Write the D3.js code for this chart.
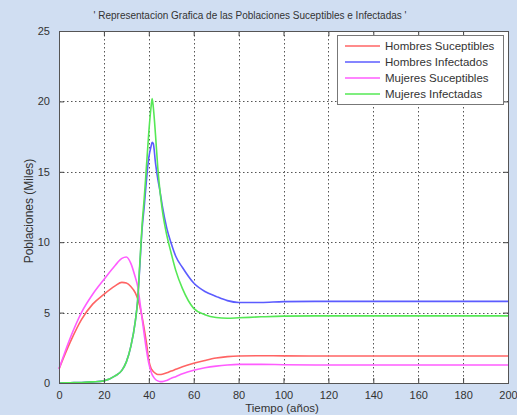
<!DOCTYPE html>
<html>
<head>
<meta charset="utf-8">
<script src="https://cdn.jsdelivr.net/npm/d3@7"></script>
<style>
  body { margin: 0; background: #d0def2; }
  svg { display: block; font-family: "Liberation Sans", Arial, sans-serif; }
</style>
</head>
<body>
<div id="chart"></div>
<script>
// tiempo (años)
var tiempo = [0, 5, 10, 15, 20, 25, 28, 30, 32, 34, 35, 36, 37, 38, 39, 40, 41, 41.5, 42, 43, 44, 45, 46, 48, 50, 52, 55, 60, 65, 70, 75, 80, 90, 100, 120, 140, 160, 180, 200];

var hombresSuceptibles = [1.0, 2.9, 4.5, 5.6, 6.3, 6.9, 7.15, 7.1, 6.85, 6.4, 6.0, 5.45, 4.7, 3.8, 2.8, 1.6, 1.05, 0.92, 0.82, 0.68, 0.6, 0.6, 0.62, 0.72, 0.85, 0.97, 1.15, 1.4, 1.6, 1.77, 1.87, 1.92, 1.94, 1.93, 1.92, 1.92, 1.92, 1.92, 1.92];
var hombresInfectados = [0, 0.02, 0.04, 0.08, 0.15, 0.5, 0.9, 1.5, 2.6, 4.4, 5.8, 8.3, 10.9, 12.6, 14.5, 16.0, 16.8, 17.1, 17.0, 15.6, 14.5, 13.6, 12.6, 11.0, 9.9, 9.0, 8.2, 7.1, 6.5, 6.15, 5.85, 5.72, 5.72, 5.78, 5.8, 5.8, 5.8, 5.8, 5.8];
var mujeresSuceptibles = [1.0, 3.2, 5.0, 6.3, 7.35, 8.35, 8.85, 8.95, 8.5, 7.5, 6.9, 5.8, 4.6, 3.4, 2.3, 1.4, 0.8, 0.6, 0.45, 0.25, 0.15, 0.1, 0.1, 0.18, 0.33, 0.45, 0.65, 0.9, 1.08, 1.2, 1.28, 1.32, 1.32, 1.3, 1.28, 1.28, 1.28, 1.28, 1.28];
var mujeresInfectadas = [0, 0.02, 0.04, 0.08, 0.15, 0.5, 0.9, 1.5, 2.6, 4.4, 5.8, 8.5, 11.2, 13.2, 15.5, 17.8, 19.6, 20.2, 19.6, 17.6, 15.3, 13.6, 12.3, 10.5, 9.2, 8.0, 6.7, 5.3, 4.85, 4.65, 4.6, 4.63, 4.7, 4.75, 4.77, 4.77, 4.77, 4.77, 4.77];

var xTicks = [0, 20, 40, 60, 80, 100, 120, 140, 160, 180, 200];
var yTicks = [0, 5, 10, 15, 20, 25];

var series = [
  {name: "Hombres Suceptibles", values: hombresSuceptibles, color: "#ff6464"},
  {name: "Hombres Infectados", values: hombresInfectados, color: "#5c5cff"},
  {name: "Mujeres Suceptibles", values: mujeresSuceptibles, color: "#ff5cff"},
  {name: "Mujeres Infectadas", values: mujeresInfectadas, color: "#55e855"}
];

var W = 517, H = 419;
var plot = {left: 59, right: 508, top: 31, bottom: 383};

var svg = d3.select("#chart").append("svg")
    .attr("width", W)
    .attr("height", H);

svg.append("rect")
    .attr("width", W).attr("height", H)
    .attr("fill", "#d0def2");
svg.append("rect")
    .attr("x", 0).attr("y", 415).attr("width", W).attr("height", 4)
    .attr("fill", "#ffffff");

var x = d3.scaleLinear().domain([0, 200]).range([plot.left, plot.right]);
var y = d3.scaleLinear().domain([0, 25]).range([plot.bottom, plot.top]);

// plot area
svg.append("rect")
    .attr("x", plot.left).attr("y", plot.top)
    .attr("width", plot.right - plot.left).attr("height", plot.bottom - plot.top)
    .attr("fill", "#ffffff");

// grid
var grid = svg.append("g")
    .attr("stroke", "#555")
    .attr("stroke-width", 1)
    .attr("stroke-dasharray", "1.5,2.5");
grid.selectAll(".gx").data(xTicks.slice(1, -1)).enter().append("line")
    .attr("x1", function(d) { return Math.round(x(d)) + 0.5; })
    .attr("x2", function(d) { return Math.round(x(d)) + 0.5; })
    .attr("y1", plot.top).attr("y2", plot.bottom);
grid.selectAll(".gy").data(yTicks.slice(1, -1)).enter().append("line")
    .attr("y1", function(d) { return Math.round(y(d)) + 0.5; })
    .attr("y2", function(d) { return Math.round(y(d)) + 0.5; })
    .attr("x1", plot.left).attr("x2", plot.right);

// lines
var line = d3.line()
    .x(function(d, i) { return x(tiempo[i]); })
    .y(function(d) { return y(d); })
    .curve(d3.curveMonotoneX);

series.forEach(function(s) {
  svg.append("path")
      .datum(s.values)
      .attr("fill", "none")
      .attr("stroke", s.color)
      .attr("stroke-width", 1.6)
      .attr("d", line);
});

// axes, ticks pointing inward like matlab
function styleAxis(g, showLabels) {
  g.select(".domain").remove();
  g.selectAll(".tick line").attr("stroke", "#444");
  g.selectAll(".tick text")
      .attr("fill", "#333")
      .style("font-size", "11px");
  if (!showLabels) g.selectAll(".tick text").remove();
}

svg.append("g")
    .attr("transform", "translate(0," + plot.bottom + ")")
    .call(d3.axisBottom(x).tickValues(xTicks).tickSize(-5).tickPadding(8))
    .call(styleAxis, true);
svg.append("g")
    .attr("transform", "translate(0," + plot.top + ")")
    .call(d3.axisTop(x).tickValues(xTicks).tickSize(-5))
    .call(styleAxis, false);
svg.append("g")
    .attr("transform", "translate(" + plot.left + ",0)")
    .call(d3.axisLeft(y).tickValues(yTicks).tickSize(-5).tickPadding(9))
    .call(styleAxis, true);
svg.append("g")
    .attr("transform", "translate(" + plot.right + ",0)")
    .call(d3.axisRight(y).tickValues(yTicks).tickSize(-5))
    .call(styleAxis, false);

svg.append("rect")
    .attr("x", plot.left + 0.5).attr("y", plot.top + 0.5)
    .attr("width", plot.right - plot.left).attr("height", plot.bottom - plot.top)
    .attr("fill", "none")
    .attr("stroke", "#555")
    .attr("stroke-width", 1);

// labels
svg.append("text")
    .attr("x", 250).attr("y", 19)
    .attr("text-anchor", "middle")
    .attr("fill", "#333")
    .style("font-size", "10px")
    .text("' Representacion Grafica de las Poblaciones Suceptibles e Infectadas '");

svg.append("text")
    .attr("x", 282).attr("y", 412)
    .attr("text-anchor", "middle")
    .attr("fill", "#333")
    .style("font-size", "11.5px")
    .text("Tiempo (años)");

svg.append("text")
    .attr("transform", "translate(33,211) rotate(-90)")
    .attr("text-anchor", "middle")
    .attr("fill", "#333")
    .style("font-size", "12px")
    .text("Poblaciones (Miles)");

// legend
var legend = svg.append("g");
legend.append("rect")
    .attr("x", 337.5).attr("y", 35.5)
    .attr("width", 166).attr("height", 69)
    .attr("fill", "#ffffff")
    .attr("stroke", "#777");
series.forEach(function(s, i) {
  var ly = 46 + i * 16;
  legend.append("line")
      .attr("x1", 345).attr("x2", 380)
      .attr("y1", ly).attr("y2", ly)
      .attr("stroke", s.color)
      .attr("stroke-width", 1.6);
  legend.append("text")
      .attr("x", 385).attr("y", ly + 4)
      .attr("fill", "#333")
      .style("font-size", "11.5px")
      .text(s.name);
});
</script>
</body>
</html>
